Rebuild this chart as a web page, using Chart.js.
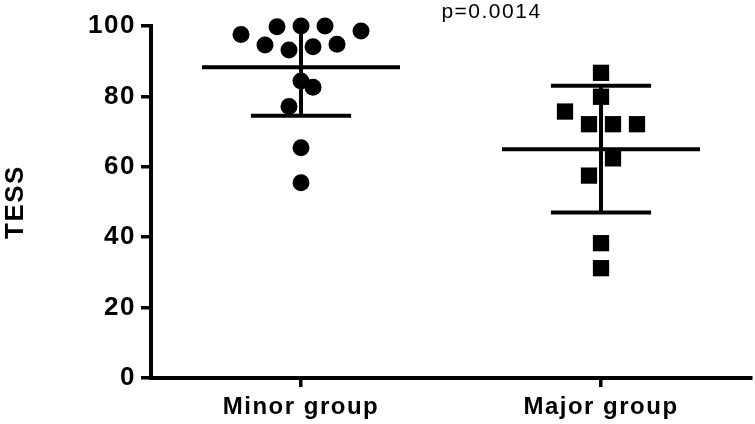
<!DOCTYPE html>
<html>
<head>
<meta charset="utf-8">
<script src="https://cdn.jsdelivr.net/npm/chart.js@4/dist/chart.umd.min.js"></script>
<style>
  body { margin: 0; background: #fff; }
  #wrap { width: 755px; height: 424px; }
</style>
</head>
<body>
<div id="wrap"><canvas id="chart" width="755" height="424"></canvas></div>
<script>
// カテゴリ
const groups = ['Minor group', 'Major group'];
const groupPos = [1, 2];

// 各群の個別値 (x はばらつき位置)
const minorX = [0.8, 0.92, 1, 1.08, 1.2, 0.88, 0.96, 1.04, 1.12, 1, 1.04, 0.96, 1, 1];
const minorY = [97.6, 99.8, 100, 100, 98.6, 94.6, 93.2, 94.1, 94.8, 84.4, 82.6, 77.1, 65.4, 55.5];
const majorX = [2, 2, 1.88, 1.96, 2.04, 2.12, 2.04, 1.96, 2, 2];
const majorY = [86.7, 79.9, 75.7, 72.1, 72.1, 72.1, 62.4, 57.5, 38.3, 31.2];

// 平均と ±SD
const means = [88.3, 65.0];
const lower = [74.5, 47.0];
const upper = [102.1, 83.0];

// y 軸目盛り
const yTicks = [0, 20, 40, 60, 80, 100];

// p値
const pText = 'p=0.0014';
const pPos = { x: 1.635, y: 104 };

function toPoints(xs, ys) {
  return xs.map((x, i) => ({ x: x, y: ys[i] }));
}

// 平均線とエラーバーを描く
const errorBars = {
  id: 'errorBars',
  afterDatasetsDraw(chart) {
    const ctx = chart.ctx;
    const xs = chart.scales.x;
    const ys = chart.scales.y;
    const area = chart.chartArea;
    ctx.save();
    ctx.beginPath();
    ctx.rect(area.left, area.top, area.right - area.left, area.bottom - area.top);
    ctx.clip();
    ctx.strokeStyle = '#000';
    ctx.lineWidth = 4;
    groupPos.forEach((g, i) => {
      const cx = xs.getPixelForValue(g);
      const meanHalf = xs.getPixelForValue(g + 0.33) - cx;
      const capHalf = xs.getPixelForValue(g + 0.167) - cx;
      const yMean = ys.getPixelForValue(means[i]);
      const yLo = ys.getPixelForValue(lower[i]);
      const yHi = ys.getPixelForValue(upper[i]);
      ctx.beginPath();
      ctx.moveTo(cx - meanHalf, yMean);
      ctx.lineTo(cx + meanHalf, yMean);
      ctx.moveTo(cx, yLo);
      ctx.lineTo(cx, yHi);
      ctx.moveTo(cx - capHalf, yLo);
      ctx.lineTo(cx + capHalf, yLo);
      ctx.moveTo(cx - capHalf, yHi);
      ctx.lineTo(cx + capHalf, yHi);
      ctx.stroke();
    });
    ctx.restore();

    // p値のテキスト
    ctx.save();
    ctx.fillStyle = '#000';
    ctx.font = '21px "Liberation Sans", Arial, sans-serif';
    ctx.textAlign = 'center';
    ctx.textBaseline = 'middle';
    ctx.fillText(pText, xs.getPixelForValue(pPos.x), ys.getPixelForValue(pPos.y));
    ctx.restore();
  }
};

// 元図の文字は横に広いので字間を少し空ける
const spacing = {
  id: 'spacing',
  beforeDraw(chart) { chart.ctx.letterSpacing = '1.5px'; },
  afterDraw(chart) { chart.ctx.letterSpacing = '0px'; }
};

const ctx = document.getElementById('chart');

const chart = new Chart(ctx, {
  type: 'scatter',
  data: {
    datasets: [{
      label: groups[0],
      data: toPoints(minorX, minorY),
      pointStyle: 'circle',
      pointRadius: 8.5,
      backgroundColor: '#000',
      borderColor: '#000',
      borderWidth: 0,
      clip: false
    }, {
      label: groups[1],
      data: toPoints(majorX, majorY),
      pointStyle: 'rect',
      pointRadius: 11.5,
      backgroundColor: '#000',
      borderColor: '#000',
      borderWidth: 0,
      clip: false
    }]
  },
  options: {
    responsive: false,
    animation: false,
    events: [],
    layout: { autoPadding: false, padding: { top: 26, right: 4, left: 0, bottom: 0 } },
    plugins: { legend: { display: false }, tooltip: { enabled: false } },
    scales: {
      x: {
        type: 'linear',
        min: 0.5,
        max: 2.5,
        afterBuildTicks: (s) => { s.ticks = groupPos.map(v => ({ value: v })); },
        afterFit: (s) => { s.height = 46; },
        grid: { drawOnChartArea: false, drawTicks: true, tickLength: 9, color: '#000', lineWidth: 3.5 },
        border: { display: true, color: '#000', width: 4 },
        ticks: {
          color: '#000',
          padding: 6,
          font: { family: '"Liberation Sans", Arial, sans-serif', size: 24, weight: 'bold' },
          callback: (v) => groups[groupPos.indexOf(v)] || ''
        }
      },
      y: {
        min: 0,
        max: 100,
        afterBuildTicks: (s) => { s.ticks = yTicks.map(v => ({ value: v })); },
        afterFit: (s) => { s.width = 151; },
        grid: { drawOnChartArea: false, drawTicks: true, tickLength: 10, color: '#000', lineWidth: 3.5 },
        border: { display: true, color: '#000', width: 4 },
        title: {
          display: true,
          text: 'TESS',
          color: '#000',
          padding: 0,
          font: { family: '"Liberation Sans", Arial, sans-serif', size: 26, weight: 'bold' }
        },
        ticks: {
          color: '#000',
          padding: 5,
          font: { family: '"Liberation Sans", Arial, sans-serif', size: 26, weight: 'bold' }
        }
      }
    }
  },
  plugins: [errorBars, spacing]
});
</script>
</body>
</html>
